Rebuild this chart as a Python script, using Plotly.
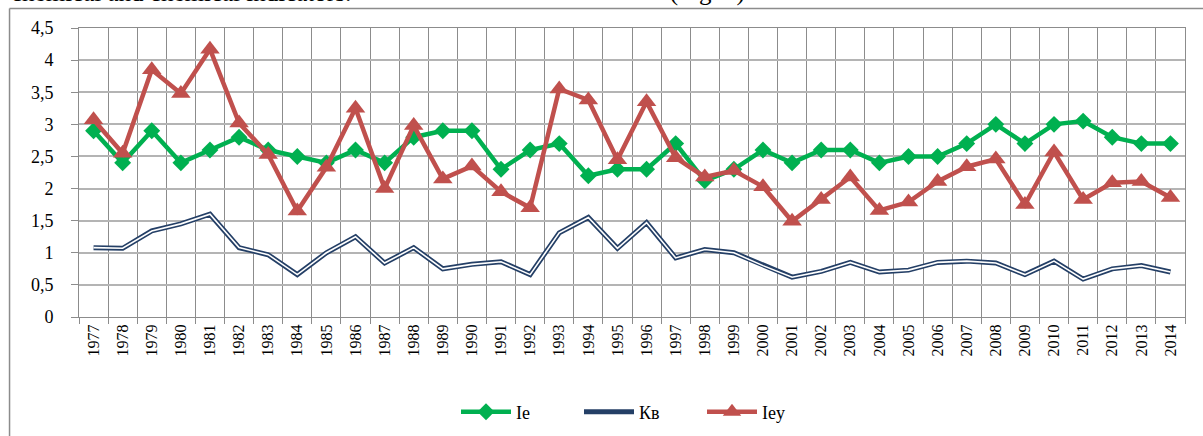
import plotly.graph_objects as go

years = [str(y) for y in range(1977, 2015)]

ie = [2.9, 2.4, 2.9, 2.4, 2.6, 2.8, 2.6, 2.5, 2.4, 2.6,
      2.4, 2.8, 2.9, 2.9, 2.3, 2.6, 2.7, 2.2, 2.3, 2.3,
      2.7, 2.12, 2.3, 2.6, 2.4, 2.6, 2.6, 2.4, 2.5, 2.5,
      2.7, 3.0, 2.7, 3.0, 3.05, 2.8, 2.7, 2.7]

kv = [1.08, 1.07, 1.34, 1.45, 1.6, 1.08, 0.97, 0.66, 1.0, 1.25,
      0.84, 1.08, 0.75, 0.82, 0.86, 0.66, 1.31, 1.55, 1.07, 1.47,
      0.92, 1.05, 1.0, 0.8, 0.62, 0.71, 0.85, 0.7, 0.73, 0.85,
      0.87, 0.84, 0.66, 0.87, 0.59, 0.75, 0.8, 0.7]

ieu = [3.07, 2.55, 3.85, 3.48, 4.17, 3.02, 2.53, 1.65, 2.33, 3.25,
       2.0, 2.98, 2.15, 2.35, 1.95, 1.7, 3.55, 3.38, 2.45, 3.35,
       2.48, 2.18, 2.28, 2.03, 1.49, 1.83, 2.18, 1.66, 1.79, 2.11,
       2.34, 2.46, 1.75, 2.57, 1.83, 2.09, 2.11, 1.86]

y_tickvals = [0, 0.5, 1, 1.5, 2, 2.5, 3, 3.5, 4, 4.5]
y_ticktext = ["0", "0,5", "1", "1,5", "2", "2,5", "3", "3,5", "4", "4,5"]

series_names = ["Ie", "Кв", "Ieу"]

SERIF = "Liberation Serif, Times New Roman, DejaVu Serif, serif"

fig = go.Figure()

fig.add_trace(go.Scatter(
    x=years, y=ie, name=series_names[0], mode="lines+markers",
    line=dict(color="#00B050", width=4.5),
    marker=dict(symbol="diamond", size=13, color="#00B050"),
))
fig.add_trace(go.Scatter(
    x=years, y=kv, name=series_names[1], mode="lines",
    line=dict(color="#243F66", width=5),
))
fig.add_trace(go.Scatter(
    x=years, y=kv, name=series_names[1], mode="lines", showlegend=False,
    line=dict(color="#FFFFFF", width=1.6), hoverinfo="skip",
))
fig.add_trace(go.Scatter(
    x=years, y=ieu, name=series_names[2], mode="lines+markers",
    line=dict(color="#C0504D", width=4.5),
    marker=dict(symbol="triangle-up", size=17, color="#C0504D"),
))

L, R, T, B = 78.5, 18, 27.5, 118.5
W, H = 1203, 436
pw, ph = W - L - R, H - T - B

def px_x(x):
    return (x - L) / pw

def px_y(y):
    return (H - B - y) / ph

frame_color = "#8C8C8C"

fig.update_layout(
    width=W, height=H,
    margin=dict(l=L, r=R, t=T, b=B, pad=0, autoexpand=False),
    paper_bgcolor="white", plot_bgcolor="white",
    font=dict(family=SERIF, color="black", size=16),
    showlegend=True,
    legend=dict(
        orientation="h", xref="container", yref="container",
        x=456 / W, xanchor="left",
        y=1 - 412 / H, yanchor="middle",
        font=dict(family=SERIF, size=18, color="black"),
        itemwidth=50, entrywidth=58, entrywidthmode="pixels",
        bgcolor="rgba(0,0,0,0)",
    ),
    xaxis=dict(
        type="category", tickson="boundaries", automargin=False,
        range=[-0.5, len(years) - 0.5],
        tickangle=-90, tickfont=dict(family=SERIF, size=16, color="black"),
        showgrid=True, gridcolor="#8C8C8C", gridwidth=1,
        showline=True, linecolor="#8C8C8C", linewidth=1, mirror=True,
        ticks="outside", ticklen=6, tickcolor="#8C8C8C",
        zeroline=False,
    ),
    yaxis=dict(
        range=[0, 4.5], tickvals=y_tickvals, ticktext=y_ticktext, automargin=False,
        tickfont=dict(family=SERIF, size=18, color="black"),
        showgrid=True, gridcolor="#B4B4B4", gridwidth=1.5,
        showline=True, linecolor="#8C8C8C", linewidth=1, mirror=True,
        ticks="outside", ticklen=7, tickcolor="#8C8C8C",
        ticklabelstandoff=14, zeroline=False,
    ),
    shapes=[
        dict(type="line", xref="paper", yref="paper",
             x0=px_x(9), x1=px_x(1210), y0=px_y(8), y1=px_y(8),
             line=dict(color=frame_color, width=1.5)),
        dict(type="line", xref="paper", yref="paper",
             x0=px_x(9), x1=px_x(9), y0=px_y(8), y1=px_y(445),
             line=dict(color=frame_color, width=1.5)),
    ],
    annotations=[
        dict(text="chemical and chemical indicators:", xref="paper", yref="paper",
             x=px_x(8), y=px_y(7.5), xanchor="left", yanchor="bottom",
             showarrow=False, font=dict(family=SERIF, size=25, color="black")),
        dict(text="ent (Fig. 1).", xref="paper", yref="paper",
             x=px_x(631), y=px_y(7.5), xanchor="left", yanchor="bottom",
             showarrow=False, font=dict(family=SERIF, size=25, color="black")),
    ],
)

fig.write_html("out.html", config={"displayModeBar": False},
               post_script="document.body.style.margin='0';")
